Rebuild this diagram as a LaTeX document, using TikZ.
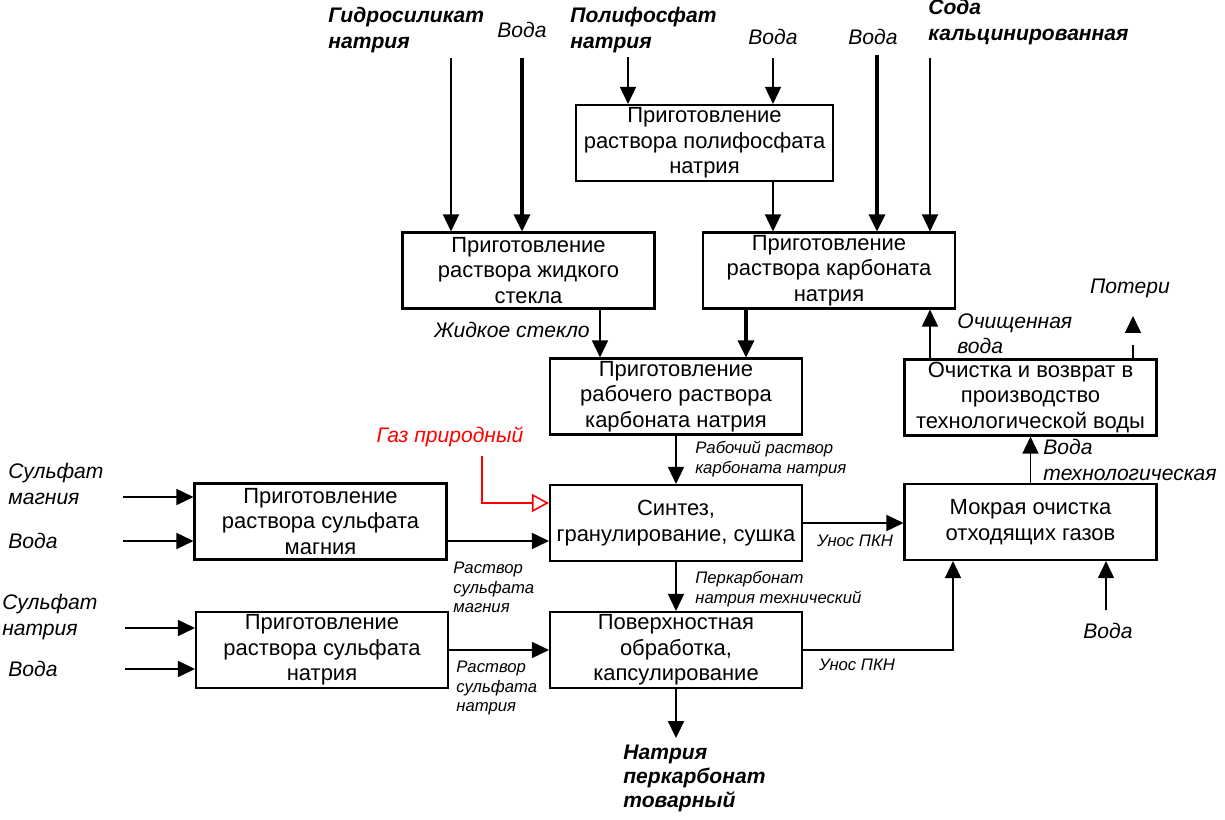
\documentclass[tikz,border=0pt]{standalone}
\usepackage{fontspec}
\setmainfont{Liberation Sans}
\usetikzlibrary{arrows.meta,calc}

\begin{document}
\begin{tikzpicture}[x=0.02cm,y=-0.02cm]
\tikzstyle{every node}+=[inner sep=0pt, font=\fontsize{12.5}{14.6}\selectfont]
\tikzstyle{proc}=[draw=black, line width=1.2pt, minimum width=5.04cm, minimum height=1.52cm, align=center]
\tikzstyle{lbl}=[font=\fontsize{12}{14.4}\selectfont\itshape, align=left]
\tikzstyle{blbl}=[font=\fontsize{12}{14.4}\selectfont\bfseries\itshape, align=left]
\tikzstyle{slbl}=[font=\fontsize{9.5}{11}\selectfont\itshape, align=left]
\tikzstyle{flow}=[black, line width=0.9pt, -{Triangle[length=0.34cm,width=0.32cm]}]
\tikzstyle{thickflow}=[flow, line width=1.8pt]
\tikzstyle{gasflow}=[red, line width=0.9pt, -{Triangle[open,length=0.34cm,width=0.36cm]}]
\useasboundingbox (0,0) rectangle (1225,820);

\node [proc, minimum width=5.14cm] (polyphos) at (704.5,143) {Приготовление\\раствора полифосфата\\натрия};
\node [proc] (glass) at (528.5,270.5) {Приготовление\\раствора жидкого\\стекла};
\node [proc] (carb) at (829,270.5) {Приготовление\\раствора карбоната\\натрия};
\node [proc] (work) at (676,396.5) {Приготовление\\рабочего раствора\\карбоната натрия};
\node [proc] (clean) at (1030.5,397.5) {Очистка и возврат в\\производство\\технологической воды};
\node [proc] (mgprep) at (320.5,521.5) {Приготовление\\раствора сульфата\\магния};
\node [proc] (synth) at (676,523) {Синтез,\\гранулирование, сушка};
\node [proc] (wet) at (1030.5,522) {Мокрая очистка\\отходящих газов};
\node [proc] (naprep) at (322,650) {Приготовление\\раствора сульфата\\натрия};
\node [proc] (coat) at (676,650) {Поверхностная\\обработка,\\капсулирование};

\node [blbl, anchor=west] (gslbl) at (328,30) {Гидросиликат\\натрия};
\node [lbl] (w1lbl) at (522,30) {Вода};
\node [blbl, anchor=west] (pplbl) at (570,30) {Полифосфат\\натрия};
\node [lbl] (w2lbl) at (773,37) {Вода};
\node [lbl] (w3lbl) at (873,37) {Вода};
\node [blbl, anchor=west] (sodalbl) at (928,22) {Сода\\кальцинированная};
\node [lbl, anchor=east] (glasslbl) at (590,330) {Жидкое стекло};
\node [lbl, anchor=west] (cleanlbl) at (957,334) {Очищенная\\вода};
\node [lbl] (losslbl) at (1130,288) {Потери};
\node [slbl, anchor=west] (worklbl) at (695,459) {Рабочий раствор\\карбоната натрия};
\node [lbl, anchor=west] (techlbl) at (1043,460) {Вода\\технологическая};
\node [lbl, red] (gaslbl) at (450,437) {Газ природный};
\node [lbl, anchor=west] (mglbl) at (8,484) {Сульфат\\магния};
\node [lbl, anchor=west] (w4lbl) at (8,541) {Вода};
\node [slbl, anchor=north west] (mgoutlbl) at (453,562) {Раствор\\сульфата\\магния};
\node [slbl] (loss1lbl) at (855,541) {Унос ПКН};
\node [slbl, anchor=west] (techpklbl) at (695,589) {Перкарбонат\\натрия технический};
\node [lbl, anchor=west] (nalbl) at (2,617) {Сульфат\\натрия};
\node [lbl, anchor=west] (w5lbl) at (8,669) {Вода};
\node [slbl, anchor=north west] (naoutlbl) at (456,661) {Раствор\\сульфата\\натрия};
\node [slbl] (loss2lbl) at (857,665) {Унос ПКН};
\node [lbl] (w6lbl) at (1108,631) {Вода};
\node [blbl, anchor=north west, font=\fontsize{12}{13.5}\selectfont\bfseries\itshape] (prodlbl) at (623,745) {Натрия\\перкарбонат\\товарный};

\coordinate (gsin) at (451,58);
\coordinate (w1in) at (522,58);
\coordinate (ppin) at (628,57);
\coordinate (w2in) at (773,58);
\coordinate (w3in) at (877,55);
\coordinate (sodain) at (930,58);
\coordinate (lossout) at (1133,316);
\coordinate (gasin) at (482,456);
\coordinate (mgin) at (123,497);
\coordinate (w4in) at (123,541);
\coordinate (nain) at (125,628);
\coordinate (w5in) at (125,669);
\coordinate (w6in) at (1106,610);
\coordinate (prodout) at (676,738);
\coordinate (glassout) at ($(glass.south)+(71.5,0)$);
\coordinate (carbout) at ($(carb.south)+(-83,0)$);
\coordinate (cleanout) at ($(clean.north)+(-100.5,0)$);
\coordinate (lossin) at (lossout |- clean.north);
\coordinate (gasto) at ($(synth.west)+(0,-20)$);
\coordinate (mgout) at ($(mgprep.east)+(0,19.5)$);
\coordinate (wetin) at ($(wet.south)+(-77.5,0)$);

\draw [flow] (gsin) -- (gsin |- glass.north);
\draw [thickflow] (w1in) -- (w1in |- glass.north);
\draw [flow] (ppin) -- (ppin |- polyphos.north);
\draw [flow] (w2in) -- (w2in |- polyphos.north);
\draw [flow] (polyphos.south -| w2in) -- (w2in |- carb.north);
\draw [thickflow] (w3in) -- (w3in |- carb.north);
\draw [flow] (sodain) -- (sodain |- carb.north);
\draw [flow] (glassout) -- (glassout |- work.north);
\draw [thickflow] (carbout) -- (carbout |- work.north);
\draw [flow] (cleanout) -- (cleanout |- carb.south);
\draw [flow, dash pattern=on 0.26cm off 0.3cm] (lossin) -- (lossout);
\draw [flow] (work.south) -- (synth.north);
\draw [flow] (wet.north) -- (clean.south);
\draw [gasflow] (gasin) |- (gasto);
\draw [flow] (mgin) -- (mgin -| mgprep.west);
\draw [flow] (w4in) -- (w4in -| mgprep.west);
\draw [flow] (mgout) -- (mgout -| synth.west);
\draw [flow] (synth.east) -- (synth.east -| wet.west);
\draw [flow] (synth.south) -- (coat.north);
\draw [flow] (nain) -- (nain -| naprep.west);
\draw [flow] (w5in) -- (w5in -| naprep.west);
\draw [flow] (naprep.east) -- (naprep.east -| coat.west);
\draw [flow] (coat.east) -| (wetin);
\draw [flow] (w6in) -- (w6in |- wet.south);
\draw [thickflow, line width=1.3pt] (coat.south) -- (prodout);
\end{tikzpicture}
\end{document}
